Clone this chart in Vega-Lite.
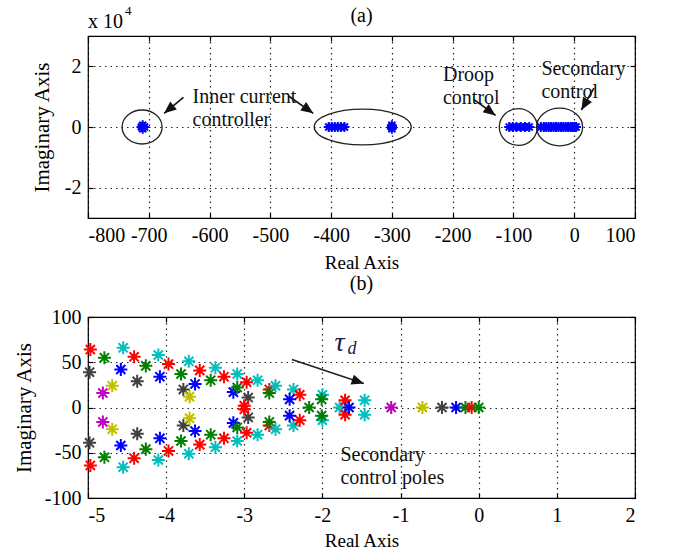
{
  "$schema": "https://vega.github.io/schema/vega-lite/v6.json",
  "background": "white",
  "padding": {"left": 12, "top": 4, "right": 5, "bottom": 2},
  "config": {
    "font": "Liberation Serif",
    "view": {"stroke": "#000", "strokeWidth": 1.2},
    "axis": {
      "labelFont": "Liberation Serif", "labelFontSize": 20, "labelColor": "#000",
      "titleFont": "Liberation Serif", "titleFontSize": 19, "titleFontWeight": "normal", "titleColor": "#000",
      "domain": false, "tickColor": "#000", "tickSize": -5, "tickWidth": 1.2,
      "gridColor": "#000", "gridDash": [1.5, 4], "gridWidth": 1.2, "gridOpacity": 0.85,
      "labelPadding": 12
    },
    "axisLeft": {"titleFontSize": 21},
    "concat": {"spacing": 0}
  },
  "datasets": {
    "polesA": [
      {"x": -712, "y": 0}, {"x": -710, "y": 0.06}, {"x": -710, "y": -0.06}, {"x": -707, "y": 0},
      {"x": -404, "y": 0}, {"x": -399, "y": 0}, {"x": -394, "y": 0}, {"x": -389, "y": 0}, {"x": -384, "y": 0}, {"x": -378, "y": 0},
      {"x": -300, "y": 0}, {"x": -300, "y": 0.06}, {"x": -300, "y": -0.06},
      {"x": -107, "y": 0}, {"x": -101, "y": 0}, {"x": -95, "y": 0}, {"x": -88, "y": 0}, {"x": -81, "y": 0}, {"x": -74, "y": 0},
      {"x": -55, "y": 0}, {"x": -50, "y": 0}, {"x": -46, "y": 0}, {"x": -42, "y": 0}, {"x": -38, "y": 0}, {"x": -34, "y": 0},
      {"x": -30, "y": 0}, {"x": -26, "y": 0}, {"x": -22, "y": 0}, {"x": -18, "y": 0}, {"x": -14, "y": 0}, {"x": -10, "y": 0},
      {"x": -6, "y": 0}, {"x": -3, "y": 0}, {"x": 0, "y": 0}, {"x": 3, "y": 0}
    ],
    "ellipsesA": [
      {"x": -711, "y": 0, "id": "e1"}, {"x": -348, "y": 0, "id": "e2"}, {"x": -92, "y": 0, "id": "e3"}, {"x": -24, "y": 0, "id": "e4"}
    ],
    "arrowsA": [
      {"xt": -643, "yt": 0.98, "x": -674.7, "y": 0.45, "id": "a1"},
      {"xt": -470.6, "yt": 1.03, "x": -429.4, "y": 0.45, "id": "a2"},
      {"xt": -165.9, "yt": 0.92, "x": -129.4, "y": 0.38, "id": "a3"},
      {"xt": 32.4, "yt": 1.28, "x": 11.8, "y": 0.56, "id": "a4"}
    ],
    "textsA": [
      {"x": -628, "y": 1.0, "t": "Inner current\ncontroller"},
      {"x": -216, "y": 1.73, "t": "Droop\ncontrol"},
      {"x": -54, "y": 1.91, "t": "Secondary\ncontrol"}
    ],
    "polesB": [
      {"x": -4.97, "y": 64, "c": "r"}, {"x": -4.97, "y": -64, "c": "r"},
      {"x": -4.98, "y": 39, "c": "k"}, {"x": -4.98, "y": -39, "c": "k"},
      {"x": -4.79, "y": 55, "c": "g"}, {"x": -4.79, "y": -55, "c": "g"},
      {"x": -4.81, "y": 16, "c": "m"}, {"x": -4.81, "y": -16, "c": "m"},
      {"x": -4.69, "y": 24, "c": "y"}, {"x": -4.69, "y": -24, "c": "y"},
      {"x": -4.55, "y": 66, "c": "c"}, {"x": -4.55, "y": -66, "c": "c"},
      {"x": -4.58, "y": 42, "c": "b"}, {"x": -4.58, "y": -42, "c": "b"},
      {"x": -4.41, "y": 56, "c": "r"}, {"x": -4.41, "y": -56, "c": "r"},
      {"x": -4.37, "y": 29, "c": "k"}, {"x": -4.37, "y": -29, "c": "k"},
      {"x": -4.26, "y": 46, "c": "g"}, {"x": -4.26, "y": -46, "c": "g"},
      {"x": -4.10, "y": 58, "c": "c"}, {"x": -4.10, "y": -58, "c": "c"},
      {"x": -4.08, "y": 34, "c": "b"}, {"x": -4.08, "y": -34, "c": "b"},
      {"x": -3.97, "y": 48, "c": "r"}, {"x": -3.97, "y": -48, "c": "r"},
      {"x": -3.81, "y": 37, "c": "g"}, {"x": -3.81, "y": -37, "c": "g"},
      {"x": -3.78, "y": 20, "c": "k"}, {"x": -3.78, "y": -20, "c": "k"},
      {"x": -3.70, "y": 12, "c": "y"}, {"x": -3.70, "y": -12, "c": "y"},
      {"x": -3.71, "y": 51, "c": "c"}, {"x": -3.71, "y": -51, "c": "c"},
      {"x": -3.63, "y": 26, "c": "b"}, {"x": -3.63, "y": -26, "c": "b"},
      {"x": -3.57, "y": 41, "c": "r"}, {"x": -3.57, "y": -41, "c": "r"},
      {"x": -3.43, "y": 30, "c": "g"}, {"x": -3.43, "y": -30, "c": "g"},
      {"x": -3.37, "y": 44, "c": "c"}, {"x": -3.37, "y": -44, "c": "c"},
      {"x": -3.26, "y": 34, "c": "r"}, {"x": -3.26, "y": -34, "c": "r"},
      {"x": -3.09, "y": 37, "c": "c"}, {"x": -3.09, "y": -37, "c": "c"},
      {"x": -3.14, "y": 17, "c": "b"}, {"x": -3.14, "y": -17, "c": "b"},
      {"x": -3.09, "y": 22, "c": "g"}, {"x": -3.09, "y": -22, "c": "g"},
      {"x": -2.97, "y": 28, "c": "r"}, {"x": -2.97, "y": -28, "c": "r"},
      {"x": -2.95, "y": 11, "c": "k"}, {"x": -2.95, "y": -11, "c": "k"},
      {"x": -3.0, "y": 2, "c": "r"}, {"x": -3.0, "y": -2, "c": "r"},
      {"x": -2.83, "y": 30, "c": "c"}, {"x": -2.83, "y": -30, "c": "c"},
      {"x": -2.68, "y": 20, "c": "r"}, {"x": -2.68, "y": -20, "c": "r"},
      {"x": -2.68, "y": 16, "c": "g"}, {"x": -2.68, "y": -16, "c": "g"},
      {"x": -2.60, "y": 24, "c": "c"}, {"x": -2.60, "y": -24, "c": "c"},
      {"x": -2.37, "y": 20, "c": "c"}, {"x": -2.37, "y": -20, "c": "c"},
      {"x": -2.29, "y": 14, "c": "r"}, {"x": -2.29, "y": -14, "c": "r"},
      {"x": -2.42, "y": 9, "c": "b"}, {"x": -2.42, "y": -9, "c": "b"},
      {"x": -2.17, "y": 0, "c": "g"},
      {"x": -2.0, "y": 14, "c": "c"}, {"x": -2.0, "y": -14, "c": "c"},
      {"x": -2.01, "y": 9, "c": "g"}, {"x": -2.01, "y": -9, "c": "g"},
      {"x": -1.78, "y": 0, "c": "c"},
      {"x": -1.71, "y": 8, "c": "r"}, {"x": -1.71, "y": -8, "c": "r"},
      {"x": -1.66, "y": 0, "c": "b"},
      {"x": -1.46, "y": 8, "c": "c"}, {"x": -1.46, "y": -8, "c": "c"},
      {"x": -1.12, "y": 0, "c": "m"},
      {"x": -0.72, "y": 0, "c": "y"},
      {"x": -0.47, "y": 0, "c": "k"},
      {"x": -0.29, "y": 0, "c": "b"},
      {"x": -0.17, "y": 0, "c": "g"},
      {"x": -0.09, "y": 0, "c": "r"},
      {"x": 0.0, "y": 0, "c": "g"}
    ],
    "arrowsB": [{"xt": -2.39, "yt": 53, "x": -1.47, "y": 26.5}],
    "textsB": [{"x": -1.77, "y": -52.5, "t": "Secondary\ncontrol poles"}],
    "tauB": [{"x": -1.78, "y": 71, "t": "τ"}],
    "subB": [{"x": -1.62, "y": 65, "t": "d"}]
  },
  "vconcat": [
    {
      "width": 547,
      "height": 182,
      "resolve": {"axis": {"x": "independent", "y": "independent"}},
      "encoding": {
        "x": {"field": "x", "type": "quantitative", "scale": {"domain": [-800, 100], "nice": false, "zero": false}, "axis": null},
        "y": {"field": "y", "type": "quantitative", "scale": {"domain": [-3, 3], "nice": false, "zero": false}, "axis": null}
      },
      "layer": [
        {"data": {"name": "polesA"},
         "mark": {"type": "point", "shape": "M0,-1L0,1M-1,0L1,0M-0.7,-0.7L0.7,0.7M-0.7,0.7L0.7,-0.7", "size": 100, "filled": false, "color": "#0000ff", "strokeWidth": 2, "opacity": 1},
         "encoding": {
           "x": {"field": "x", "type": "quantitative", "scale": {"domain": [-800, 100], "nice": false, "zero": false},
                 "axis": {"values": [-800, -700, -600, -500, -400, -300, -200, -100, 0, 100], "title": "Real Axis", "titlePadding": 8, "labelExpr": "datum.value + ''"}},
           "y": {"field": "y", "type": "quantitative", "scale": {"domain": [-3, 3], "nice": false, "zero": false},
                 "axis": {"values": [-2, 0, 2], "title": "Imaginary Axis", "titlePadding": 12, "labelExpr": "datum.value + ''"}}
         }},
        {"data": {"name": "polesA"},
         "mark": {"type": "point", "opacity": 0},
         "encoding": {
           "x": {"field": "x", "type": "quantitative", "axis": {"orient": "top", "values": [-800, -700, -600, -500, -400, -300, -200, -100, 0, 100], "labels": false, "grid": false, "title": null}},
           "y": {"field": "y", "type": "quantitative", "axis": {"orient": "right", "values": [-2, 0, 2], "labels": false, "grid": false, "title": null}}
         }},
        {"data": {"name": "ellipsesA"}, "transform": [{"filter": "datum.id == 'e1'"}],
         "mark": {"type": "point", "shape": "M-1,0A1,0.85 0 1,1 1,0A1,0.85 0 1,1 -1,0Z", "size": 1600, "filled": false, "color": "#222", "strokeWidth": 1.3, "opacity": 1}},
        {"data": {"name": "ellipsesA"}, "transform": [{"filter": "datum.id == 'e2'"}],
         "mark": {"type": "point", "shape": "M-1,0A1,0.37 0 1,1 1,0A1,0.37 0 1,1 -1,0Z", "size": 9409, "filled": false, "color": "#222", "strokeWidth": 1.3, "opacity": 1}},
        {"data": {"name": "ellipsesA"}, "transform": [{"filter": "datum.id == 'e3'"}],
         "mark": {"type": "point", "shape": "M-1,0A1,0.97 0 1,1 1,0A1,0.97 0 1,1 -1,0Z", "size": 1444, "filled": false, "color": "#222", "strokeWidth": 1.3, "opacity": 1}},
        {"data": {"name": "ellipsesA"}, "transform": [{"filter": "datum.id == 'e4'"}],
         "mark": {"type": "point", "shape": "M-1,0A1,0.82 0 1,1 1,0A1,0.82 0 1,1 -1,0Z", "size": 2116, "filled": false, "color": "#222", "strokeWidth": 1.3, "opacity": 1}},
        {"data": {"name": "arrowsA"},
         "mark": {"type": "rule", "color": "#111", "strokeWidth": 1.6},
         "encoding": {"x2": {"field": "xt"}, "y2": {"field": "yt"}}},
        {"data": {"name": "arrowsA"}, "transform": [{"filter": "datum.id == 'a1'"}],
         "mark": {"type": "point", "shape": "M0,0L-0.42,1L0.42,1Z", "size": 600, "filled": true, "color": "#111", "opacity": 1, "angle": 230}},
        {"data": {"name": "arrowsA"}, "transform": [{"filter": "datum.id == 'a2'"}],
         "mark": {"type": "point", "shape": "M0,0L-0.42,1L0.42,1Z", "size": 600, "filled": true, "color": "#111", "opacity": 1, "angle": 125}},
        {"data": {"name": "arrowsA"}, "transform": [{"filter": "datum.id == 'a3'"}],
         "mark": {"type": "point", "shape": "M0,0L-0.42,1L0.42,1Z", "size": 600, "filled": true, "color": "#111", "opacity": 1, "angle": 126.5}},
        {"data": {"name": "arrowsA"}, "transform": [{"filter": "datum.id == 'a4'"}],
         "mark": {"type": "point", "shape": "M0,0L-0.42,1L0.42,1Z", "size": 600, "filled": true, "color": "#111", "opacity": 1, "angle": 210}},
        {"data": {"name": "textsA"},
         "mark": {"type": "text", "align": "left", "baseline": "middle", "lineBreak": "\n", "lineHeight": 23, "fontSize": 20, "font": "Liberation Serif", "color": "#111"},
         "encoding": {"text": {"field": "t"}}},
        {"data": {"values": [{"x": -800, "y": 3, "t": "x 10"}]},
         "mark": {"type": "text", "align": "left", "baseline": "alphabetic", "dy": -8, "fontSize": 20, "font": "Liberation Serif", "color": "#000"},
         "encoding": {"text": {"field": "t"}}},
        {"data": {"values": [{"x": -800, "y": 3, "t": "4"}]},
         "mark": {"type": "text", "align": "left", "baseline": "alphabetic", "dx": 37, "dy": -21, "fontSize": 13, "font": "Liberation Serif", "color": "#000"},
         "encoding": {"text": {"field": "t"}}},
        {"data": {"values": [{"x": -350, "y": 3, "t": "(a)"}]},
         "mark": {"type": "text", "align": "center", "baseline": "middle", "dy": -20, "fontSize": 20, "font": "Liberation Serif", "color": "#000"},
         "encoding": {"text": {"field": "t"}}}
      ]
    },
    {
      "width": 547,
      "height": 181,
      "resolve": {"axis": {"x": "independent", "y": "independent"}},
      "encoding": {
        "x": {"field": "x", "type": "quantitative", "scale": {"domain": [-5, 2], "nice": false, "zero": false}, "axis": null},
        "y": {"field": "y", "type": "quantitative", "scale": {"domain": [-100, 100], "nice": false, "zero": false}, "axis": null}
      },
      "layer": [
        {"data": {"name": "polesB"},
         "mark": {"type": "point", "shape": "M0,-1L0,1M-1,0L1,0M-0.7,-0.7L0.7,0.7M-0.7,0.7L0.7,-0.7", "size": 170, "filled": false, "strokeWidth": 2, "opacity": 1},
         "encoding": {
           "x": {"field": "x", "type": "quantitative", "scale": {"domain": [-5, 2], "nice": false, "zero": false},
                 "axis": {"values": [-5, -4, -3, -2, -1, 0, 1, 2], "title": "Real Axis", "titlePadding": 6, "labelExpr": "datum.value + ''"}},
           "y": {"field": "y", "type": "quantitative", "scale": {"domain": [-100, 100], "nice": false, "zero": false},
                 "axis": {"values": [-100, -50, 0, 50, 100], "title": "Imaginary Axis", "titlePadding": 10, "labelExpr": "datum.value + ''"}},
           "color": {"field": "c", "type": "nominal", "legend": null,
                     "scale": {"domain": ["b", "g", "r", "c", "m", "y", "k"],
                               "range": ["#0000ff", "#008000", "#ff0000", "#00bfbf", "#bf00bf", "#bfbf00", "#404040"]}}
         }},
        {"data": {"name": "polesB"},
         "mark": {"type": "point", "opacity": 0},
         "encoding": {
           "x": {"field": "x", "type": "quantitative", "axis": {"orient": "top", "values": [-5, -4, -3, -2, -1, 0, 1, 2], "labels": false, "grid": false, "title": null}},
           "y": {"field": "y", "type": "quantitative", "axis": {"orient": "right", "values": [-100, -50, 0, 50, 100], "labels": false, "grid": false, "title": null}}
         }},
        {"data": {"name": "arrowsB"},
         "mark": {"type": "rule", "color": "#222", "strokeWidth": 1.6},
         "encoding": {"x2": {"field": "xt"}, "y2": {"field": "yt"}}},
        {"data": {"name": "arrowsB"},
         "mark": {"type": "point", "shape": "M0,0L-0.42,1L0.42,1Z", "size": 600, "filled": true, "color": "#111", "opacity": 1, "angle": 108.5}},
        {"data": {"name": "textsB"},
         "mark": {"type": "text", "align": "left", "baseline": "middle", "lineBreak": "\n", "lineHeight": 23, "fontSize": 20, "font": "Liberation Serif", "color": "#111"},
         "encoding": {"text": {"field": "t"}}},
        {"data": {"name": "tauB"},
         "mark": {"type": "text", "align": "center", "baseline": "middle", "fontSize": 28, "fontStyle": "italic", "font": "Liberation Serif", "color": "#1b1b50"},
         "encoding": {"text": {"field": "t"}}},
        {"data": {"name": "subB"},
         "mark": {"type": "text", "align": "center", "baseline": "middle", "fontSize": 18, "fontStyle": "italic", "font": "Liberation Serif", "color": "#1b1b50"},
         "encoding": {"text": {"field": "t"}}},
        {"data": {"values": [{"x": -1.5, "y": 100, "t": "(b)"}]},
         "mark": {"type": "text", "align": "center", "baseline": "middle", "dy": -33, "fontSize": 20, "font": "Liberation Serif", "color": "#000"},
         "encoding": {"text": {"field": "t"}}}
      ]
    }
  ]
}
